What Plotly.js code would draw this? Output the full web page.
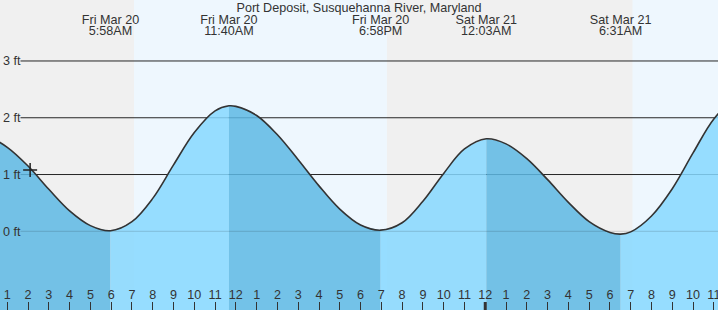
<!DOCTYPE html>
<html><head><meta charset="utf-8">
<script src="https://cdn.plot.ly/plotly-3.0.1.min.js"></script>
<style>html,body{margin:0;padding:0;background:#fff}#chart{width:718px;height:310px}</style>
</head><body><div id="chart"></div>
<script>
const chartTitle = 'Port Deposit, Susquehanna River, Maryland';

// hourly water level readings (ft)
const readingTimes = [
  '2026-03-20 00:00','2026-03-20 01:00','2026-03-20 02:00','2026-03-20 03:00','2026-03-20 04:00','2026-03-20 05:00',
  '2026-03-20 07:00','2026-03-20 08:00','2026-03-20 09:00','2026-03-20 10:00','2026-03-20 11:00',
  '2026-03-20 12:00','2026-03-20 13:00','2026-03-20 14:00','2026-03-20 15:00','2026-03-20 16:00','2026-03-20 17:00','2026-03-20 18:00',
  '2026-03-20 20:00','2026-03-20 21:00','2026-03-20 22:00','2026-03-20 23:00',
  '2026-03-21 01:00','2026-03-21 02:00','2026-03-21 03:00','2026-03-21 04:00','2026-03-21 05:00','2026-03-21 06:00',
  '2026-03-21 07:00','2026-03-21 08:00','2026-03-21 09:00','2026-03-21 10:00','2026-03-21 11:00','2026-03-21 12:00'
];
const readingFeet = [
  1.68, 1.48, 1.15, 0.74, 0.36, 0.10,
  0.17, 0.58, 1.17, 1.74, 2.12,
  2.20, 2.04, 1.70, 1.26, 0.80, 0.39, 0.11,
  0.15, 0.53, 1.02, 1.45,
  1.54, 1.28, 0.91, 0.51, 0.17, -0.02,
  -0.01, 0.27, 0.75, 1.38, 1.98, 2.33
];

// high / low tides
const extremaTimes = ['2026-03-19 23:27','2026-03-20 05:58','2026-03-20 11:40','2026-03-20 18:58','2026-03-21 00:03','2026-03-21 06:31','2026-03-21 12:24'];
const extremaFeet  = [1.71, 0.01, 2.21, 0.02, 1.63, -0.05, 2.37];
const extremaKind  = ['H','L','H','L','H','L','H'];
const extremaDay   = ['Thu Mar 19','Fri Mar 20','Fri Mar 20','Fri Mar 20','Sat Mar 21','Sat Mar 21','Sat Mar 21'];
const extremaClock = ['11:27PM','5:58AM','11:40AM','6:58PM','12:03AM','6:31AM','12:24PM'];

// sunrise / sunset
const sunrise = ['2026-03-20 07:06','2026-03-21 07:05'];
const sunset  = ['2026-03-20 19:16','2026-03-21 19:17'];

const nowTime = ['2026-03-20 02:06'];
const nowFeet = [1.08];

const yTickVals = [0, 1, 2, 3];
const yTickText = ['0 ft', '1 ft', '2 ft', '3 ft'];
const gridFeet = [1, 2, 3];

const FONT = '"Liberation Sans", Arial, Helvetica, sans-serif';
const TXT = '#333';
const DARK = 'rgba(93,185,228,0.85)';
const LIGHT = 'rgba(134,216,255,0.85)';
const H = 310, W = 718;
const yRange = [-1.386, 4.074];
const pxToFt = py => yRange[1] - py / H * (yRange[1] - yRange[0]);

const pts = readingTimes.map((t, i) => ({t, v: readingFeet[i]}))
  .concat(extremaTimes.map((t, i) => ({t, v: extremaFeet[i]})))
  .sort((a, b) => a.t < b.t ? -1 : (a.t > b.t ? 1 : 0));

const traces = [];
for (let i = 0; i < extremaTimes.length - 1; i++) {
  const seg = pts.filter(p => p.t >= extremaTimes[i] && p.t <= extremaTimes[i + 1]);
  const xs = seg.map(p => p.t), ys = seg.map(p => p.v);
  traces.push({type: 'scatter', x: xs, y: xs.map(() => -5), mode: 'lines', line: {width: 0}, hoverinfo: 'skip'});
  traces.push({type: 'scatter', x: xs, y: ys, mode: 'lines', line: {width: 0, shape: 'spline'},
    fill: 'tonexty', fillcolor: extremaKind[i] === 'H' ? DARK : LIGHT, hoverinfo: 'skip'});
}
traces.push({type: 'scatter', x: pts.map(p => p.t), y: pts.map(p => p.v), mode: 'lines',
  line: {color: '#333', width: 1.6, shape: 'spline'}, hoverinfo: 'skip'});
traces.push({type: 'scatter', x: nowTime, y: nowFeet, mode: 'markers',
  marker: {symbol: 'cross-thin', size: 10, line: {color: '#222', width: 1.5}}, hoverinfo: 'skip'});
traces.push({type: 'scatter', x: extremaTimes, y: extremaTimes.map(() => pxToFt(20.5)), mode: 'text',
  text: extremaDay, textposition: 'middle center', cliponaxis: false,
  textfont: {family: FONT, size: 12.6, color: TXT}, hoverinfo: 'skip'});
traces.push({type: 'scatter', x: extremaTimes, y: extremaTimes.map(() => pxToFt(31.7)), mode: 'text',
  text: extremaClock, textposition: 'middle center', cliponaxis: false,
  textfont: {family: FONT, size: 12.6, color: TXT}, hoverinfo: 'skip'});

const shapes = [];
// daylight bands
const dayStart = sunrise, dayEnd = sunset;
for (let i = 0; i < dayStart.length; i++) {
  shapes.push({type: 'rect', xref: 'x', yref: 'paper', x0: dayStart[i], x1: dayEnd[i], y0: 0, y1: 1,
    fillcolor: '#eef7fe', line: {width: 0}, layer: 'below'});
}
gridFeet.forEach(f => shapes.push({type: 'line', xref: 'paper', yref: 'y', x0: 20.5 / W, x1: 1, y0: f, y1: f,
  line: {color: '#262626', width: 1}, layer: 'below'}));
shapes.push({type: 'line', xref: 'paper', yref: 'y', x0: 20.5 / W, x1: 1, y0: 0, y1: 0,
  line: {color: 'rgba(0,0,0,0.15)', width: 1}, layer: 'above'});
shapes.push({type: 'line', xref: 'x', yref: 'paper', x0: '2026-03-21 00:00', x1: '2026-03-21 00:00', y0: 0, y1: 8 / H,
  line: {color: '#333', width: 3}, layer: 'above'});

const layout = {
  width: W, height: H, margin: {l: 0, r: 0, t: 0, b: 0, pad: 0},
  paper_bgcolor: '#ffffff', plot_bgcolor: '#f0f0f0', showlegend: false,
  font: {family: FONT, size: 12.6, color: TXT},
  title: {text: chartTitle, x: 0.5, xanchor: 'center', xref: 'paper', y: 1 - 7.5 / H, yref: 'container', yanchor: 'middle',
    font: {family: FONT, size: 12.6, color: TXT}},
  xaxis: {type: 'date', range: ['2026-03-20 00:39', '2026-03-21 11:12'], tick0: '2026-03-20 00:00', dtick: 3600000,
    tickformat: '%-I', ticks: 'inside', ticklen: 8, tickwidth: 1, tickcolor: '#333',
    ticklabelposition: 'inside', ticklabeloverflow: 'allow', showgrid: false, zeroline: false, showline: false,
    tickfont: {family: FONT, size: 12.6, color: TXT}},
  yaxis: {range: yRange, tickvals: yTickVals, ticktext: yTickText, ticks: '', ticklabelposition: 'inside',
    ticklabeloverflow: 'allow', showgrid: false, zeroline: false, showline: false,
    tickfont: {family: FONT, size: 12.6, color: TXT}},
  shapes: shapes
};

Plotly.newPlot('chart', traces, layout, {staticPlot: true, displayModeBar: false});
</script></body></html>
